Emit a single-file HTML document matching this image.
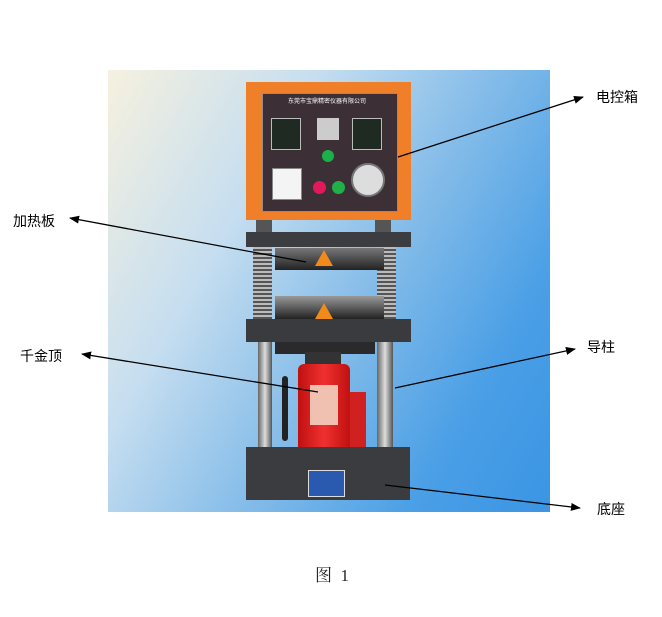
<!DOCTYPE html>
<html><head><style>
body{margin:0;width:662px;height:617px;background:#fff;position:relative;overflow:hidden;font-family:"Liberation Sans","Noto Sans CJK SC",sans-serif}
.a{position:absolute}
.lbl{position:absolute;font-size:14px;color:#000}
</style></head><body>
<div class="a" style="left:108px;top:70px;width:442px;height:442px;background:linear-gradient(120deg,#f6f1df 0%,#c6def0 30%,#86bde9 55%,#4a9fe6 80%,#3b95e4 100%)"></div>
<div class="a" style="left:246px;top:82px;width:165px;height:138px;background:#f07f2a"></div>
<div class="a" style="left:262px;top:93px;width:134px;height:117px;background:#3d2f36;border:1px solid #9a8a80"></div>
<div class="a" style="left:288px;top:98px;color:#fff;font-size:6px;line-height:8px;white-space:nowrap">东莞市宝鼎精密仪器有限公司</div>
<div class="a" style="left:271px;top:118px;width:28px;height:30px;background:#1e2a22;border:1px solid #bbb"></div>
<div class="a" style="left:352px;top:118px;width:28px;height:30px;background:#1e2a22;border:1px solid #bbb"></div>
<div class="a" style="left:317px;top:118px;width:22px;height:22px;background:#ccc"></div>
<div class="a" style="left:322px;top:150px;width:12px;height:12px;border-radius:50%;background:#1bb04a"></div>
<div class="a" style="left:272px;top:168px;width:28px;height:30px;background:#f4f4f4;border:1px solid #888"></div>
<div class="a" style="left:313px;top:181px;width:13px;height:13px;border-radius:50%;background:#e01a5a"></div>
<div class="a" style="left:332px;top:181px;width:13px;height:13px;border-radius:50%;background:#20b048"></div>
<div class="a" style="left:351px;top:163px;width:30px;height:30px;border-radius:50%;background:#ddd;border:2px solid #777"></div>
<div class="a" style="left:256px;top:220px;width:16px;height:12px;background:#555"></div>
<div class="a" style="left:375px;top:220px;width:16px;height:12px;background:#555"></div>
<div class="a" style="left:246px;top:232px;width:165px;height:15px;background:#3c3d40"></div>
<div class="a" style="left:253px;top:247px;width:19px;height:72px;background:repeating-linear-gradient(180deg,#bbb 0 2px,#555 2px 4px)"></div>
<div class="a" style="left:377px;top:247px;width:19px;height:72px;background:repeating-linear-gradient(180deg,#bbb 0 2px,#555 2px 4px)"></div>
<div class="a" style="left:275px;top:248px;width:109px;height:22px;background:linear-gradient(#777,#222)"></div>
<div class="a" style="left:315px;top:250px;width:0;height:0;border-left:9px solid transparent;border-right:9px solid transparent;border-bottom:16px solid #f08a1a"></div>
<div class="a" style="left:275px;top:296px;width:109px;height:23px;background:linear-gradient(#999,#222)"></div>
<div class="a" style="left:315px;top:303px;width:0;height:0;border-left:9px solid transparent;border-right:9px solid transparent;border-bottom:16px solid #f08a1a"></div>
<div class="a" style="left:246px;top:319px;width:165px;height:23px;background:#3a3b3e"></div>
<div class="a" style="left:258px;top:342px;width:14px;height:106px;background:linear-gradient(90deg,#666,#ddd,#555)"></div>
<div class="a" style="left:377px;top:342px;width:16px;height:106px;background:linear-gradient(90deg,#666,#ddd,#555)"></div>
<div class="a" style="left:275px;top:342px;width:100px;height:12px;background:#2a2a2c"></div>
<div class="a" style="left:305px;top:352px;width:36px;height:14px;background:#333"></div>
<div class="a" style="left:298px;top:364px;width:52px;height:88px;background:linear-gradient(90deg,#c01010,#f03030,#c01010);border-radius:6px 6px 0 0"></div>
<div class="a" style="left:310px;top:385px;width:28px;height:40px;background:#f0c0b0"></div>
<div class="a" style="left:350px;top:392px;width:16px;height:55px;background:#d02020"></div>
<div class="a" style="left:282px;top:376px;width:6px;height:65px;background:#222;border-radius:3px"></div>
<div class="a" style="left:246px;top:447px;width:164px;height:53px;background:#3b3c3f"></div>
<div class="a" style="left:308px;top:470px;width:35px;height:25px;background:#2a5ab0;border:1px solid #ddd"></div>
<svg class="a" style="left:0;top:0" width="662" height="617">
<defs><marker id="m" markerWidth="10" markerHeight="8" refX="9" refY="4" orient="auto" markerUnits="userSpaceOnUse"><path d="M0,0 L10,4 L0,8 Z" fill="#000"/></marker></defs>
<g stroke="#000" stroke-width="1.3" marker-end="url(#m)">
<line x1="398" y1="157" x2="583" y2="97"/>
<line x1="306" y1="262" x2="70" y2="218"/>
<line x1="318" y1="392" x2="82" y2="354"/>
<line x1="395" y1="388" x2="575" y2="349"/>
<line x1="385" y1="485" x2="580" y2="508"/>
</g></svg>
<div class="lbl" style="left:596px;top:87px">电控箱</div>
<div class="lbl" style="left:13px;top:211px">加热板</div>
<div class="lbl" style="left:20px;top:346px">千金顶</div>
<div class="lbl" style="left:587px;top:337px">导柱</div>
<div class="lbl" style="left:597px;top:499px">底座</div>
<div class="lbl" style="left:315px;top:561px;font-size:17px;font-family:'Liberation Serif','Noto Serif CJK SC',serif;color:#222;white-space:pre">图  1</div>
</body></html>
